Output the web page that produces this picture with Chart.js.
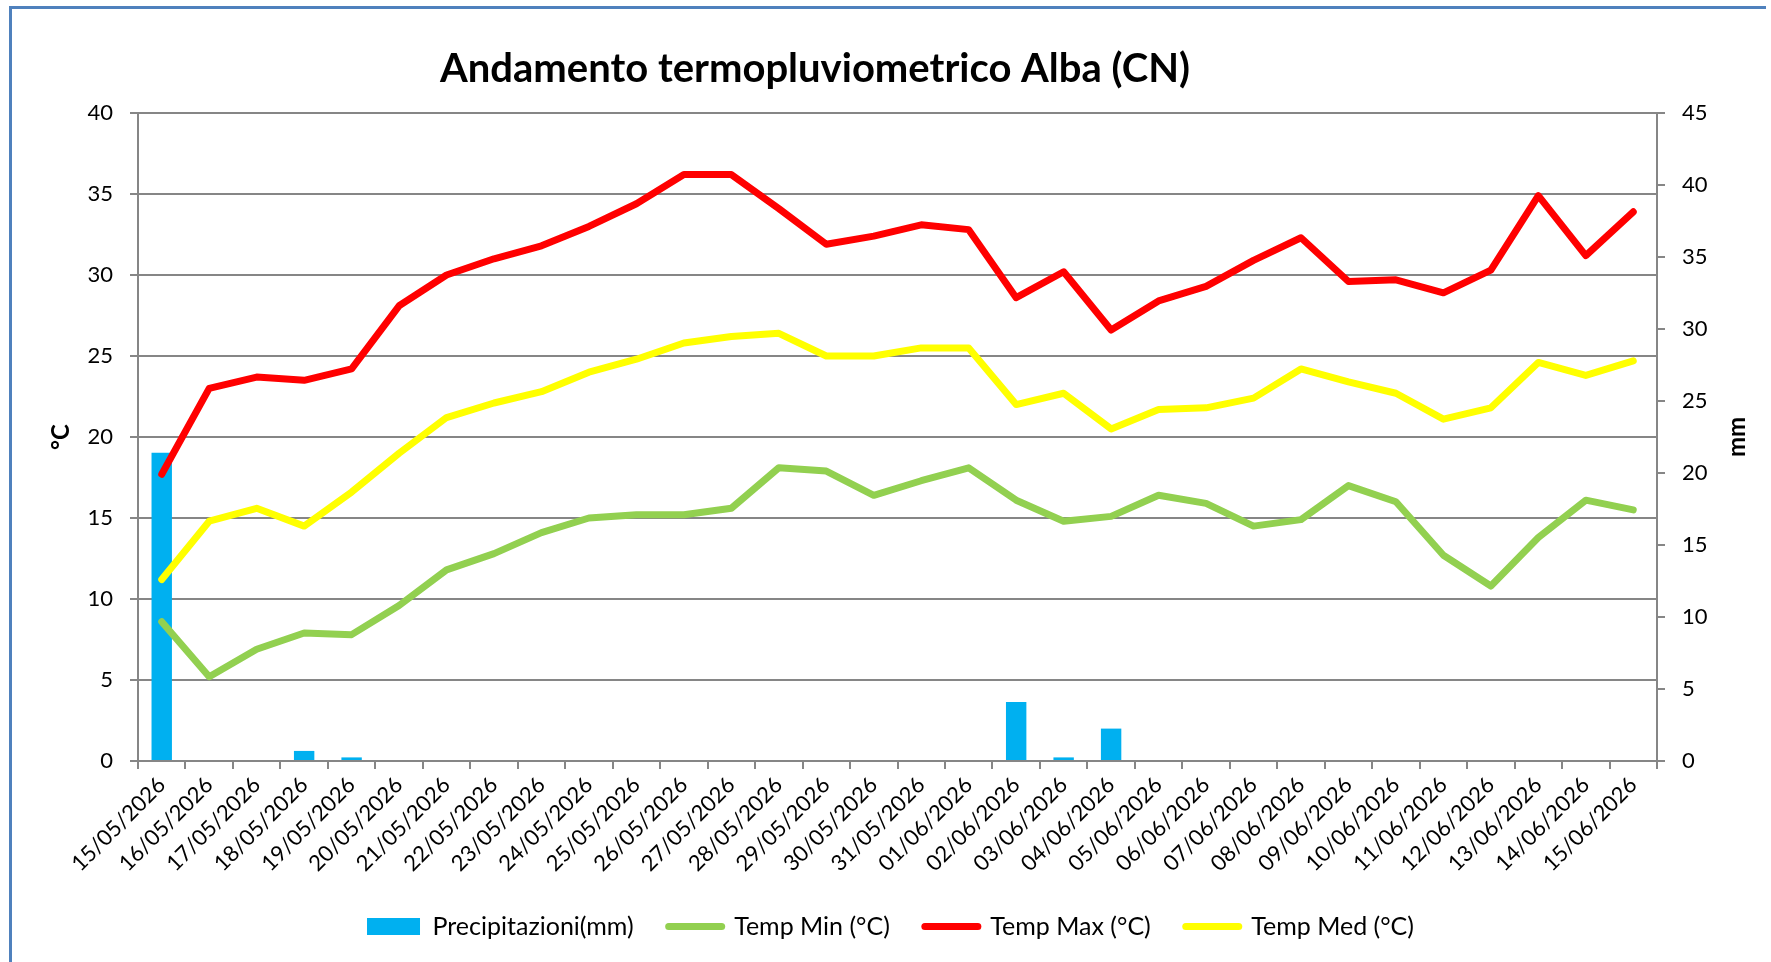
<!DOCTYPE html>
<html>
<head>
<meta charset="utf-8">
<script src="https://cdn.jsdelivr.net/npm/chart.js@4.4.1/dist/chart.umd.min.js"></script>
<style>
  html, body { margin: 0; padding: 0; background: #fff; }
  #wrap { width: 1771px; height: 962px; position: relative; }
</style>
</head>
<body>
<div id="wrap"><canvas id="chart"></canvas></div>
<script>
// daily values, 15/05/2026 - 15/06/2026
const dates = [
  '15/05/2026', '16/05/2026', '17/05/2026', '18/05/2026', '19/05/2026', '20/05/2026',
  '21/05/2026', '22/05/2026', '23/05/2026', '24/05/2026', '25/05/2026', '26/05/2026',
  '27/05/2026', '28/05/2026', '29/05/2026', '30/05/2026', '31/05/2026', '01/06/2026',
  '02/06/2026', '03/06/2026', '04/06/2026', '05/06/2026', '06/06/2026', '07/06/2026',
  '08/06/2026', '09/06/2026', '10/06/2026', '11/06/2026', '12/06/2026', '13/06/2026',
  '14/06/2026', '15/06/2026'
];
const precip = [21.4, 0, 0, 0.7, 0.25, 0, 0, 0, 0, 0, 0, 0, 0, 0, 0, 0, 0, 0,
  4.1, 0.25, 2.25, 0, 0, 0, 0, 0, 0, 0, 0, 0, 0, 0];
const tMin = [8.6, 5.2, 6.9, 7.9, 7.8, 9.6, 11.8, 12.8, 14.1, 15.0, 15.2, 15.2,
  15.6, 18.1, 17.9, 16.4, 17.3, 18.1, 16.1, 14.8, 15.1, 16.4, 15.9, 14.5,
  14.9, 17.0, 16.0, 12.7, 10.8, 13.8, 16.1, 15.5];
const tMax = [17.7, 23.0, 23.7, 23.5, 24.2, 28.1, 30.0, 31.0, 31.8, 33.0, 34.4, 36.2,
  36.2, 34.1, 31.9, 32.4, 33.1, 32.8, 28.6, 30.2, 26.6, 28.4, 29.3, 30.9,
  32.3, 29.6, 29.7, 28.9, 30.3, 34.9, 31.2, 33.9];
const tMed = [11.2, 14.8, 15.6, 14.5, 16.6, 19.0, 21.2, 22.1, 22.8, 24.0, 24.8, 25.8,
  26.2, 26.4, 25.0, 25.0, 25.5, 25.5, 22.0, 22.7, 20.5, 21.7, 21.8, 22.4,
  24.2, 23.4, 22.7, 21.1, 21.8, 24.6, 23.8, 24.7];

const FONT = "Lato, 'Open Sans', sans-serif";
const GRID = '#868686';

const frame = {
  id: 'frame',
  beforeDraw(chart) {
    const ctx = chart.ctx;
    ctx.save();
    ctx.fillStyle = '#fff';
    ctx.fillRect(0, 0, chart.width, chart.height);
    ctx.fillStyle = '#4F81BD';
    ctx.fillRect(9, 6, 1757, 3);
    ctx.fillRect(9, 6, 3, chart.height);
    ctx.restore();
  },
  afterDraw(chart) {
    const ctx = chart.ctx;
    const area = chart.chartArea;
    ctx.save();
    ctx.fillStyle = '#000';
    ctx.textAlign = 'center';
    ctx.textBaseline = 'middle';
    ctx.font = 'bold 40px ' + FONT;
    ctx.fillText('Andamento termopluviometrico Alba (CN)', 815, 69);
    ctx.font = 'bold 24px ' + FONT;
    ctx.translate(1737, (area.top + area.bottom) / 2);
    ctx.rotate(-Math.PI / 2);
    ctx.fillText('mm', 0, 0);
    ctx.restore();
  }
};

function tempLine(label, data, color) {
  return {
    type: 'line',
    label: label,
    data: data,
    yAxisID: 'y',
    borderColor: color,
    backgroundColor: color,
    borderWidth: 7,
    pointRadius: 0,
    pointBorderWidth: 7,
    pointStyle: 'line',
    borderCapStyle: 'round',
    borderJoinStyle: 'round',
    tension: 0,
    order: 0
  };
}

new Chart(document.getElementById('chart'), {
  data: {
    labels: dates,
    datasets: [
      {
        type: 'bar',
        label: 'Precipitazioni(mm)',
        data: precip,
        yAxisID: 'y1',
        backgroundColor: '#00B0F0',
        borderWidth: 0,
        barPercentage: 0.43,
        categoryPercentage: 1,
        pointStyle: 'rect',
        order: 1
      },
      tempLine('Temp Min (°C)', tMin, '#92D050'),
      tempLine('Temp Max (°C)', tMax, '#FF0000'),
      tempLine('Temp Med (°C)', tMed, '#FFFF00')
    ]
  },
  options: {
    responsive: true,
    maintainAspectRatio: false,
    animation: false,
    devicePixelRatio: 1,
    layout: { padding: { left: 10, right: 0, top: 113, bottom: 13 } },
    plugins: {
      title: { display: false },
      tooltip: { enabled: false },
      legend: {
        position: 'bottom',
        labels: {
          usePointStyle: true,
          pointStyleWidth: 53,
          boxHeight: 17,
          padding: 35,
          color: '#000',
          font: { family: FONT, size: 25 },
          sort: (a, b) => a.datasetIndex - b.datasetIndex,
          generateLabels(chart) {
            const items = Chart.defaults.plugins.legend.labels.generateLabels(chart);
            items.forEach(it => { if (it.pointStyle === 'line') it.lineCap = 'round'; });
            return items;
          }
        }
      }
    },
    scales: {
      x: {
        offset: true,
        grid: { offset: true, drawOnChartArea: false, tickLength: 8, color: GRID, lineWidth: 2 },
        border: { color: GRID, width: 2 },
        ticks: {
          autoSkip: false, maxRotation: 45, minRotation: 45,
          color: '#000', font: { family: FONT, size: 22 }
        },
        afterFit(scale) { scale.height = 118; }
      },
      y: {
        position: 'left',
        min: 0, max: 40,
        grid: { color: GRID, lineWidth: 2, tickLength: 8 },
        border: { color: GRID, width: 2 },
        ticks: { stepSize: 5, padding: 17, color: '#000', font: { family: FONT, size: 22 } },
        title: {
          display: true, text: '°C', color: '#000',
          font: { family: FONT, size: 24, weight: 'bold' },
          padding: { top: 37 }
        },
        afterFit(scale) { scale.width = 128; }
      },
      y1: {
        position: 'right',
        min: 0, max: 45,
        grid: { drawOnChartArea: false, color: GRID, lineWidth: 2, tickLength: 8 },
        border: { color: GRID, width: 2 },
        ticks: { stepSize: 5, padding: 17, color: '#000', font: { family: FONT, size: 22 } },
        afterFit(scale) { scale.width = 114; }
      }
    }
  },
  plugins: [frame]
});
</script>
</body>
</html>
